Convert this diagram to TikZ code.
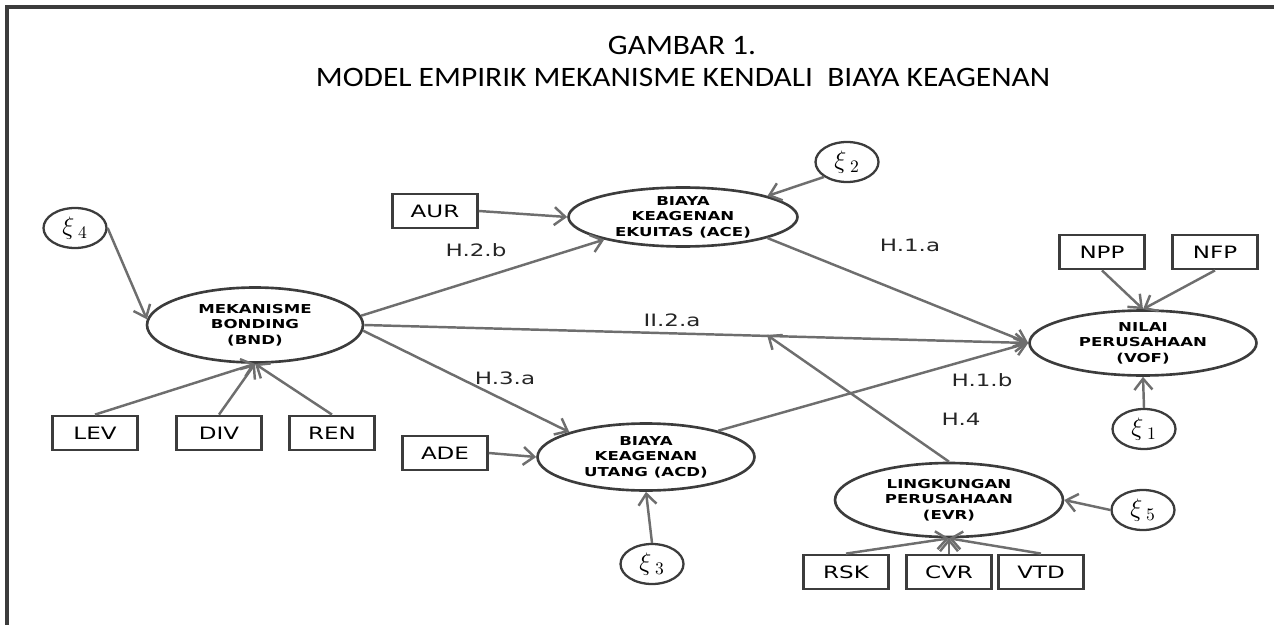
\documentclass[tikz,border=0pt]{standalone}
\usepackage{fontspec}
\setmainfont{DejaVu Sans}
\newfontfamily\titlefont[FakeStretch=1.12]{Carlito}
\newfontfamily\lblfont[FakeStretch=1.35]{DejaVu Sans}
\usetikzlibrary{arrows.meta, shapes.geometric}
\definecolor{cline}{HTML}{6E6E6E}
\definecolor{cedge}{HTML}{3C3C3C}
\tikzset{
  every picture/.style={line width=1.4pt},
  construct/.style={ellipse, draw=cedge, line width=1.5pt, inner sep=0pt, align=center, font=\lblfont\bfseries\fontsize{7}{8.8}\selectfont},
  indicator/.style={draw=cedge, line width=1.6pt, minimum width=1.7cm, minimum height=0.68cm, inner sep=0pt, font=\lblfont\fontsize{9.7}{11}\selectfont},
  err/.style={ellipse, draw=cedge, line width=1.3pt, minimum width=1.26cm, minimum height=0.8cm, inner sep=0pt, font=\Large},
  arrow/.style={-{Straight Barb[length=2.2mm, width=3.6mm]}, draw=cline, line width=1.4pt},
  hyp/.style={font=\lblfont\fontsize{9.7}{11}\selectfont, text=black!85},
}

\begin{document}
\begin{tikzpicture}[x=0.02cm, y=-0.02cm,
                    c/.style 2 args={construct, minimum width=#1cm, minimum height=#2cm}]
  \useasboundingbox (0,0) rectangle (1274,625);
  \draw[cedge, line width=1.8pt] (7,625) -- (7,7) -- (1274,7);
  \node[font=\titlefont\fontsize{16}{19}\selectfont] (t1) at (682,45) {GAMBAR 1.};
  \node[font=\titlefont\fontsize{16}{19}\selectfont] (t2) at (683,77) {MODEL EMPIRIK MEKANISME KENDALI \ BIAYA KEAGENAN};

  \node[c={4.32}{1.5}] (bnd) at (255,325) {MEKANISME\\BONDING\\(BND)};
  \node[c={4.58}{1.18}] (ace) at (683,217) {BIAYA\\KEAGENAN\\EKUITAS (ACE)};
  \node[c={4.34}{1.34}] (acd) at (646,457) {BIAYA\\KEAGENAN\\UTANG (ACD)};
  \node[c={4.54}{1.3}] (vof) at (1143,343) {NILAI\\PERUSAHAAN\\(VOF)};
  \node[c={4.56}{1.48}] (evr) at (949,500) {LINGKUNGAN\\PERUSAHAAN\\(EVR)};

  \node[indicator] (lev) at (95,433) {LEV};
  \node[indicator] (div) at (219,433) {DIV};
  \node[indicator] (ren) at (332,433) {REN};
  \node[indicator] (aur) at (435,211) {AUR};
  \node[indicator] (ade) at (445,453) {ADE};
  \node[indicator] (npp) at (1102,252) {NPP};
  \node[indicator] (nfp) at (1215,252) {NFP};
  \node[indicator] (rsk) at (846,572) {RSK};
  \node[indicator] (cvr) at (949,572) {CVR};
  \node[indicator] (vtd) at (1041,572) {VTD};

  \node[err] (xi1) at (1144,429) {$\xi_{\;1}$};
  \node[err] (xi2) at (847,162) {$\xi_{\;2}$};
  \node[err] (xi3) at (652,564) {$\xi_{\;3}$};
  \node[err] (xi4) at (75,228) {$\xi_{\;4}$};
  \node[err] (xi5) at (1143,510) {$\xi_{\;5}$};
  \coordinate (h4end) at (767,335);

  \draw[arrow] (xi4.east) -- (bnd.177);
  \draw[arrow] (lev.north) -- (bnd.south); \draw[arrow] (div.north) -- (bnd.south); \draw[arrow] (ren.north) -- (bnd.south);
  \draw[arrow] (aur.east) -- (ace.west); \draw[arrow] (xi2.213) -- (ace.14);
  \draw[arrow] (bnd.5) -- (ace.196); \draw[arrow] (bnd.east) -- (vof.west); \draw[arrow] (bnd.-3) -- (acd.162);
  \draw[arrow] (ace.346) -- (vof.west); \draw[arrow] (acd.20) -- (vof.west);
  \draw[arrow] (ade.east) -- (acd.west); \draw[arrow] (xi3.north) -- (acd.south);
  \draw[arrow] (npp.south) -- (vof.north); \draw[arrow] (nfp.south) -- (vof.north); \draw[arrow] (xi1.north) -- (vof.south);
  \draw[arrow] (evr.north) -- (h4end); \draw[arrow] (xi5.west) -- (evr.east);
  \draw[arrow] (rsk.north) -- (evr.south); \draw[arrow] (cvr.north) -- (evr.south); \draw[arrow] (vtd.north) -- (evr.south);

  \node[hyp] (h2b) at (476,250) {H.2.b};
  \node[hyp] (h1a) at (910,245) {H.1.a};
  \node[hyp] (h2a) at (672,320) {II.2.a};
  \node[hyp] (h3a) at (505,378) {H.3.a};
  \node[hyp] (h1b) at (982,380) {H.1.b};
  \node[hyp] (h4) at (961,419) {H.4};
\end{tikzpicture}
\end{document}
